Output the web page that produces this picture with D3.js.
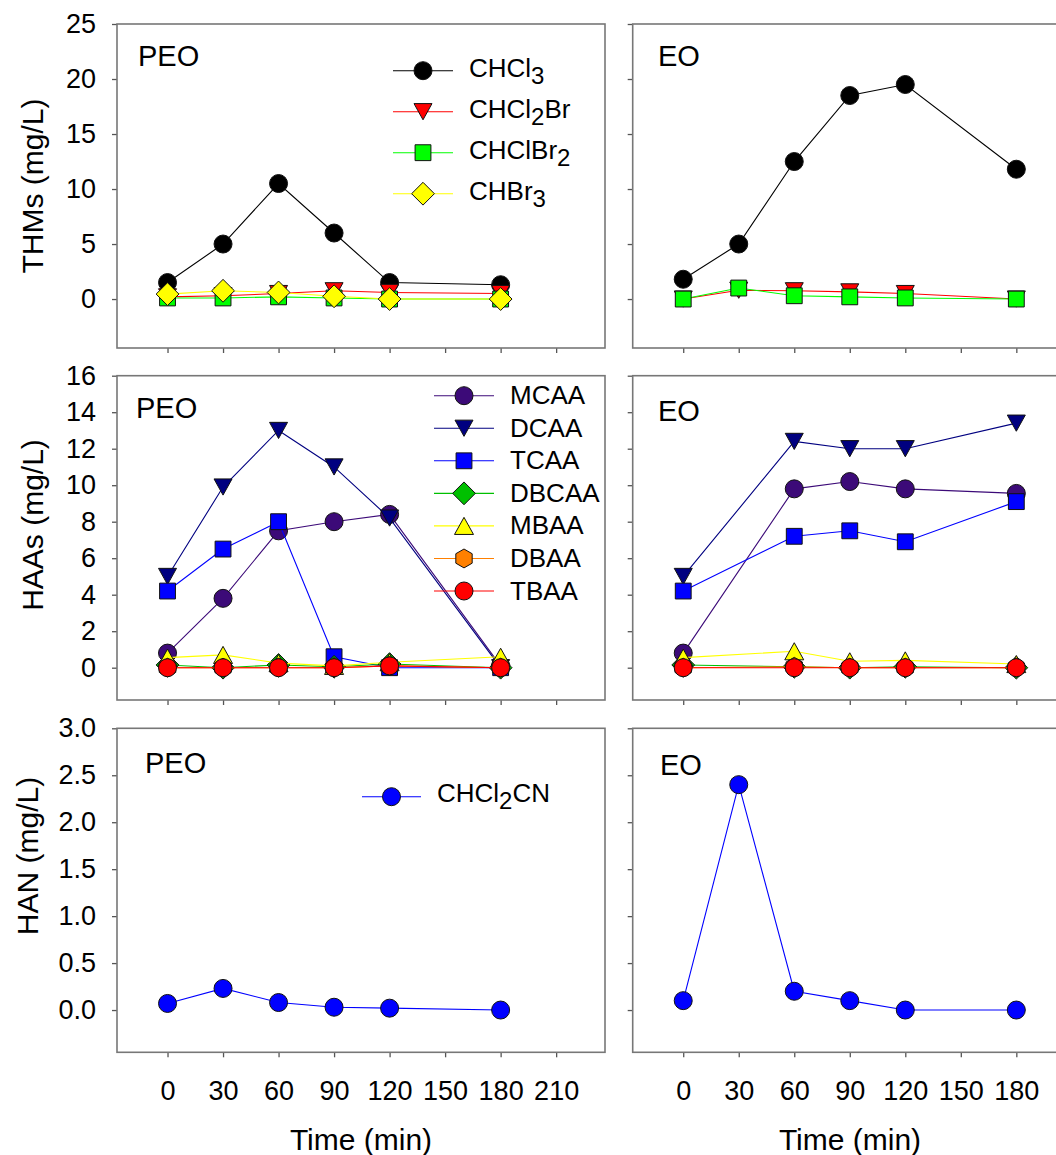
<!DOCTYPE html>
<html><head><meta charset="utf-8">
<script src="https://cdn.jsdelivr.net/npm/d3@7"></script>
<style>
html,body{margin:0;padding:0;background:#fff;}
svg{display:block;font-family:"Liberation Sans",Arial,sans-serif;}
</style></head>
<body><svg id="c" width="1056" height="1155"></svg>
<script>
// ---------------- data ----------------
const times = [0, 30, 60, 90, 120, 180];
const timesHaaEO = [0, 60, 90, 120, 180];
const xTickValues = [0, 30, 60, 90, 120, 150, 180, 210];
const xTickValuesEO = [0, 30, 60, 90, 120, 150, 180, 210];
const thmTicks = [0, 5, 10, 15, 20, 25];
const haaTicks = [0, 2, 4, 6, 8, 10, 12, 14, 16];
const hanTicks = [0, 0.5, 1.0, 1.5, 2.0, 2.5, 3.0];

// THMs (mg/L)
const chcl3PEO   = [1.5, 5.0, 10.5, 6.0, 1.5, 1.3];
const chcl2brPEO = [0.2, 0.3, 0.5, 0.75, 0.6, 0.5];
const chclbr2PEO = [0.1, 0.1, 0.2, 0.1, 0.0, 0.0];
const chbr3PEO   = [0.45, 0.75, 0.6, 0.25, 0.0, 0.0];
const chcl3EO    = [1.8, 5.0, 12.5, 18.5, 19.5, 11.8];
const chcl2brEO  = [0.0, 0.8, 0.75, 0.65, 0.5, 0.0];
const chclbr2EO  = [0.0, 1.0, 0.3, 0.2, 0.1, 0.0];

// HAAs (mg/L)
const mcaaPEO  = [0.8, 3.8, 7.5, 8.0, 8.4, 0.1];
const dcaaPEO  = [5.0, 9.9, 13.0, 11.0, 8.2, 0.0];
const tcaaPEO  = [4.2, 6.5, 8.0, 0.6, 0.0, 0.0];
const dbcaaPEO = [0.15, 0.0, 0.15, 0.05, 0.2, 0.0];
const mbaaPEO  = [0.55, 0.7, 0.25, 0.1, 0.3, 0.6];
const dbaaPEO  = [0.0, 0.0, 0.0, 0.0, 0.1, 0.0];
const tbaaPEO  = [0.0, 0.0, 0.0, 0.0, 0.1, 0.0];
const mcaaEO   = [0.8, 9.8, 10.2, 9.8, 9.55];
const dcaaEO   = [5.0, 12.4, 12.0, 12.0, 13.4];
const tcaaEO   = [4.2, 7.2, 7.5, 6.9, 9.1];
const dbcaaEO  = [0.15, 0.05, 0.0, 0.05, 0.0];
const mbaaEO   = [0.55, 0.9, 0.35, 0.4, 0.2];
const dbaaEO   = [0.0, 0.05, 0.0, 0.0, 0.0];
const tbaaEO   = [0.0, 0.0, 0.0, 0.0, 0.0];

// HAN (mg/L)
const chcl2cnPEO = [0.07, 0.23, 0.08, 0.03, 0.02, 0.0];
const chcl2cnEO  = [0.1, 2.4, 0.2, 0.1, 0.0, 0.0];

// ---------------- styles ----------------
const styles = {
  CHCl3:   {fill: "#000000", line: "#000000", shape: "circle"},
  CHCl2Br: {fill: "#ff0000", line: "#ff0000", shape: "triDown"},
  CHClBr2: {fill: "#00ff00", line: "#00ff00", shape: "square"},
  CHBr3:   {fill: "#ffff00", line: "#ffff00", shape: "diamond"},
  MCAA:    {fill: "#3c0a78", line: "#3c0a78", shape: "circle"},
  DCAA:    {fill: "#000080", line: "#000080", shape: "triDown"},
  TCAA:    {fill: "#0000ff", line: "#0000ff", shape: "square"},
  DBCAA:   {fill: "#00c000", line: "#00c000", shape: "diamond"},
  MBAA:    {fill: "#ffff00", line: "#ffff00", shape: "triUp"},
  DBAA:    {fill: "#ff8000", line: "#ff8000", shape: "hexagon"},
  TBAA:    {fill: "#ff0000", line: "#ff0000", shape: "circle"},
  CHCl2CN: {fill: "#0000ff", line: "#0000ff", shape: "circle"}
};
const shapePath = {
  circle: r => `M${r},0A${r},${r} 0 1,1 ${-r},0A${r},${r} 0 1,1 ${r},0Z`,
  square: r => { const s = r * 0.88; return `M${-s},${-s}H${s}V${s}H${-s}Z`; },
  diamond: r => { const s = r * 1.2; return `M0,${-s}L${s},0L0,${s}L${-s},0Z`; },
  triDown: r => { const w = r, h = r * 0.9; return `M${-w},${-h}L${w},${-h}L0,${h}Z`; },
  triUp: r => { const w = r, h = r * 0.9; return `M${-w},${h}L${w},${h}L0,${-h}Z`; },
  hexagon: r => { const a = r * 1.05, b = a * 0.866;
    return `M0,${-a}L${b},${-a/2}L${b},${a/2}L0,${a}L${-b},${a/2}L${-b},${-a/2}Z`; }
};

const svg = d3.select("#c");
const FONT = "'Liberation Sans', Arial, sans-serif";

// ---------------- layout ----------------
const xDomain = [-27.3, 236.4];
const xLeft = d3.scaleLinear().domain(xDomain).range([117, 605]);
const xRight = d3.scaleLinear().domain(xDomain).range([632.7, 1120.7]);
const rows = [
  {y: d3.scaleLinear().domain([-4.45, 25]).range([348, 24]), ticks: thmTicks, fmt: d3.format("d"), title: "THMs (mg/L)", titleX: 43, titleY: 186},
  {y: d3.scaleLinear().domain([-1.77, 16]).range([700, 375.7]), ticks: haaTicks, fmt: d3.format("d"), title: "HAAs (mg/L)", titleX: 43, titleY: 525},
  {y: d3.scaleLinear().domain([-0.45, 3.0]).range([1052.3, 728.3]), ticks: hanTicks, fmt: d3.format(".1f"), title: "HAN (mg/L)", titleX: 38, titleY: 856}
];

const panels = [
  {row: 0, side: "L", label: "PEO", labelPos: [138, 66], series: [
    ["CHCl3", times, chcl3PEO], ["CHCl2Br", times, chcl2brPEO], ["CHClBr2", times, chclbr2PEO], ["CHBr3", times, chbr3PEO]]},
  {row: 0, side: "R", label: "EO", labelPos: [658, 66], series: [
    ["CHCl3", times, chcl3EO], ["CHCl2Br", times, chcl2brEO], ["CHClBr2", times, chclbr2EO]]},
  {row: 1, side: "L", label: "PEO", labelPos: [136, 418], series: [
    ["MCAA", times, mcaaPEO], ["DCAA", times, dcaaPEO], ["TCAA", times, tcaaPEO], ["DBCAA", times, dbcaaPEO],
    ["MBAA", times, mbaaPEO], ["DBAA", times, dbaaPEO], ["TBAA", times, tbaaPEO]]},
  {row: 1, side: "R", label: "EO", labelPos: [658, 421], series: [
    ["MCAA", timesHaaEO, mcaaEO], ["DCAA", timesHaaEO, dcaaEO], ["TCAA", timesHaaEO, tcaaEO], ["DBCAA", timesHaaEO, dbcaaEO],
    ["MBAA", timesHaaEO, mbaaEO], ["DBAA", timesHaaEO, dbaaEO], ["TBAA", timesHaaEO, tbaaEO]]},
  {row: 2, side: "L", label: "PEO", labelPos: [145, 773], series: [["CHCl2CN", times, chcl2cnPEO]]},
  {row: 2, side: "R", label: "EO", labelPos: [660, 775], series: [["CHCl2CN", times, chcl2cnEO]]}
];

const sizes = {circle: 9, square: 9, diamond: 9.5, triDown: 9, triUp: 9.5, hexagon: 9};

panels.forEach(p => {
  const row = rows[p.row];
  const x = p.side === "L" ? xLeft : xRight;
  const y = row.y;
  const g = svg.append("g");
  const [x0, x1] = x.range();
  const [yb, yt] = y.range();

  // y axis ticks
  const ya = d3.axisLeft(y).tickValues(row.ticks).tickSize(5).tickPadding(16)
    .tickFormat(p.side === "L" ? row.fmt : () => "");
  const yg = g.append("g").attr("transform", `translate(${x0},0)`).call(ya);
  yg.select(".domain").remove();
  yg.selectAll("line").attr("stroke", "#555").attr("stroke-width", 1.3);
  yg.selectAll("text").attr("font-size", 27).attr("font-family", FONT).attr("fill", "#000");

  // x axis ticks
  const xa = d3.axisBottom(x).tickValues(p.side === "L" ? xTickValues : xTickValuesEO).tickSize(5).tickPadding(23.5)
    .tickFormat(p.row === 2 ? d3.format("d") : () => "");
  const xg = g.append("g").attr("transform", `translate(0,${yb})`).call(xa);
  xg.select(".domain").remove();
  xg.selectAll("line").attr("stroke", "#555").attr("stroke-width", 1.3);
  xg.selectAll("text").attr("font-size", 27).attr("font-family", FONT).attr("fill", "#000");
  if (p.side === "R") xg.selectAll(".tick").filter(d => d > 180).remove();

  // frame
  g.append("rect").attr("x", x0).attr("y", yt).attr("width", x1 - x0).attr("height", yb - yt)
    .attr("fill", "none").attr("stroke", "#777").attr("stroke-width", 1.6);

  // series
  p.series.forEach(([name, xs, vs]) => {
    const st = styles[name];
    const pts = xs.map((t, i) => [x(t), y(vs[i])]);
    g.append("path").attr("d", d3.line()(pts)).attr("fill", "none")
      .attr("stroke", st.line).attr("stroke-width", 1.1);
    g.selectAll(null).data(pts).enter().append("path")
      .attr("transform", d => `translate(${d[0]},${d[1]})`)
      .attr("d", shapePath[st.shape](sizes[st.shape]))
      .attr("fill", st.fill).attr("stroke", "#111").attr("stroke-width", 1);
  });

  // panel label
  g.append("text").attr("x", p.labelPos[0]).attr("y", p.labelPos[1]).attr("font-size", 29)
    .attr("font-family", FONT).text(p.label);

  // y title
  if (p.side === "L") {
    g.append("text").attr("transform", `translate(${row.titleX},${row.titleY}) rotate(-90)`)
      .attr("text-anchor", "middle").attr("font-size", 30).attr("font-family", FONT).text(row.title);
  }
  // x title
  if (p.row === 2) {
    g.append("text").attr("x", p.side === "L" ? 361 : 850).attr("y", 1150).attr("text-anchor", "middle")
      .attr("font-size", 30).attr("font-family", FONT).text("Time (min)");
  }
});

// ---------------- legends ----------------
const legendLabels = {
  CHCl3: [["CHCl", 0], ["3", 1]],
  CHCl2Br: [["CHCl", 0], ["2", 1], ["Br", 0]],
  CHClBr2: [["CHClBr", 0], ["2", 1]],
  CHBr3: [["CHBr", 0], ["3", 1]],
  CHCl2CN: [["CHCl", 0], ["2", 1], ["CN", 0]]
};
const legends = [
  {names: ["CHCl3", "CHCl2Br", "CHClBr2", "CHBr3"], x0: 393, x1: 453, tx: 469, y0: 70.7, dy: 41, base: 6},
  {names: ["MCAA", "DCAA", "TCAA", "DBCAA", "MBAA", "DBAA", "TBAA"], x0: 434, x1: 494, tx: 510, y0: 395.7, dy: 32.55, base: 8.5},
  {names: ["CHCl2CN"], x0: 362, x1: 421, tx: 437, y0: 796.7, dy: 0, base: 5}
];
legends.forEach(L => {
  L.names.forEach((n, i) => {
    const st = styles[n];
    const yy = L.y0 + i * L.dy;
    const g = svg.append("g");
    g.append("line").attr("x1", L.x0).attr("x2", L.x1).attr("y1", yy).attr("y2", yy)
      .attr("stroke", st.line).attr("stroke-width", 1.1);
    g.append("path").attr("transform", `translate(${(L.x0 + L.x1) / 2},${yy})`)
      .attr("d", shapePath[st.shape](sizes[st.shape])).attr("fill", st.fill)
      .attr("stroke", "#111").attr("stroke-width", 1);
    const t = g.append("text").attr("x", L.tx).attr("y", yy + L.base).attr("font-size", 26).attr("font-family", FONT);
    const parts = legendLabels[n] || [[n, 0]];
    let shifted = false;
    parts.forEach(([s, sub]) => {
      const ts = t.append("tspan").text(s);
      if (sub && !shifted) { ts.attr("dy", 7).attr("font-size", 24); shifted = true; }
      else if (!sub && shifted) { ts.attr("dy", -7); shifted = false; }
    });
  });
});
</script>
</body></html>
